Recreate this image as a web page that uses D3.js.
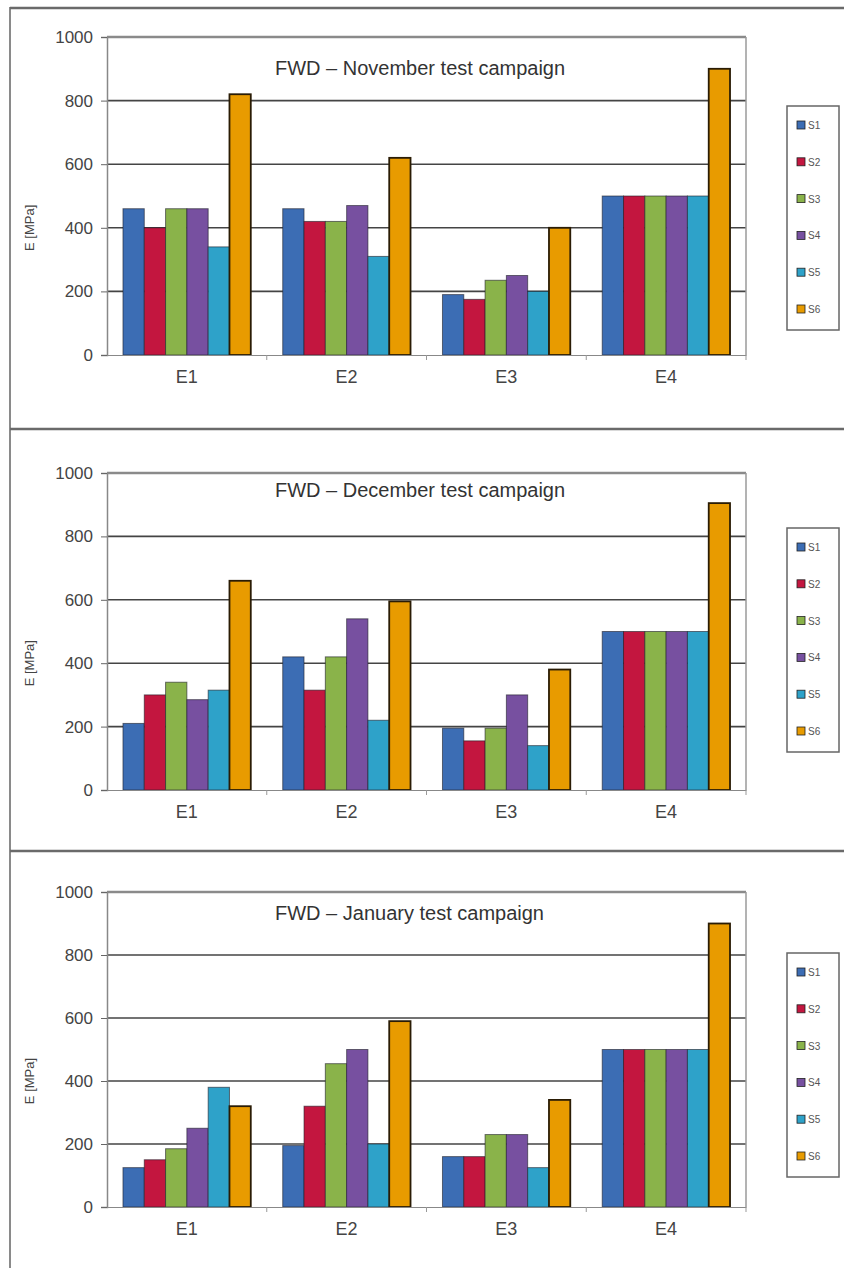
<!DOCTYPE html>
<html>
<head>
<meta charset="utf-8">
<script src="https://cdn.jsdelivr.net/npm/d3@7"></script>
<style>
  body { margin: 0; background: #fff; }
  svg { display: block; font-family: "Liberation Sans", Arial, sans-serif; }
</style>
</head>
<body>
<script>
// categories and series
const categorias = ['E1', 'E2', 'E3', 'E4'];
const series = ['S1', 'S2', 'S3', 'S4', 'S5', 'S6'];
const colores = ['#3c6db4', '#c3163f', '#8ab34a', '#7750a0', '#2ea2c9', '#e89b00'];
const ticksY = [0, 200, 400, 600, 800, 1000];

const titulos = ['FWD \u2013 November test campaign', 'FWD \u2013 December test campaign', 'FWD \u2013 January test campaign'];

// values [category][series]  (MPa)
const noviembre = [
    [460, 400, 460, 460, 340, 820],
    [460, 420, 420, 470, 310, 620],
    [190, 175, 235, 250, 200, 400],
    [500, 500, 500, 500, 500, 900]
];
const diciembre = [
    [210, 300, 340, 285, 315, 660],
    [420, 315, 420, 540, 220, 595],
    [195, 155, 195, 300, 140, 380],
    [500, 500, 500, 500, 500, 905]
];
const enero = [
    [125, 150, 185, 250, 380, 320],
    [195, 320, 455, 500, 200, 590],
    [160, 160, 230, 230, 125, 340],
    [500, 500, 500, 500, 500, 900]
];
const campanas = [noviembre, diciembre, enero];

// layout of each panel (plot top / bottom, title y, legend top)
const paneles = [
    { top: 37, bottom: 355, tituloY: 75, leyendaY: 106 },
    { top: 473, bottom: 790, tituloY: 497, leyendaY: 528 },
    { top: 892, bottom: 1207, tituloY: 920, leyendaY: 953 }
];

const w = 844, h = 1268;
const izq = 107, der = 746;

const svg = d3.select('body').append('svg')
    .attr('width', w)
    .attr('height', h);

// frame lines
svg.append('line').attr('x1', 10).attr('x2', 10).attr('y1', 7).attr('y2', h)
    .attr('stroke', '#8a8a8a').attr('stroke-width', 2);
[8, 429, 851].forEach((y) => {
    svg.append('line').attr('x1', 10).attr('x2', w).attr('y1', y).attr('y2', y)
        .attr('stroke', '#6a6a6a').attr('stroke-width', 2.5);
});

const xScale = d3.scaleBand()
    .domain(categorias)
    .range([izq, der])
    .paddingInner(0.2)
    .paddingOuter(0.1);

const xSerie = d3.scaleBand()
    .domain(series)
    .range([0, xScale.bandwidth()]);

campanas.forEach((datos, p) => {
    const pan = paneles[p];
    const g = svg.append('g');

    const yScale = d3.scaleLinear()
        .domain([0, 1000])
        .range([pan.bottom, pan.top]);

    // grid lines
    g.selectAll('.grid')
        .data(ticksY.slice(1))
        .enter()
        .append('line')
        .attr('x1', izq).attr('x2', der)
        .attr('y1', (d) => yScale(d)).attr('y2', (d) => yScale(d))
        .attr('stroke', (d) => d === 1000 ? '#8a8a8a' : '#444')
        .attr('stroke-width', (d) => d === 1000 ? 2.5 : 1.6);

    // right border of plot area
    g.append('line')
        .attr('x1', der).attr('x2', der)
        .attr('y1', pan.top).attr('y2', pan.bottom)
        .attr('stroke', '#9a9a9a').attr('stroke-width', 1.5);

    // bars
    const grupos = g.selectAll('.grupo')
        .data(datos)
        .enter()
        .append('g')
        .attr('transform', (d, i) => 'translate(' + xScale(categorias[i]) + ',0)');

    grupos.selectAll('rect')
        .data((d) => d.map((v, j) => ({ serie: series[j], valor: v, j: j })))
        .enter()
        .append('rect')
        .attr('x', (d) => xSerie(d.serie))
        .attr('y', (d) => yScale(d.valor))
        .attr('width', xSerie.bandwidth())
        .attr('height', (d) => yScale(0) - yScale(d.valor))
        .attr('fill', (d) => colores[d.j])
        .attr('stroke', (d) => d.j === 5 ? '#2a1c05' : 'rgba(30,30,40,0.6)')
        .attr('stroke-width', (d) => d.j === 5 ? 1.8 : 1);

    // Y axis
    const yAxis = d3.axisLeft(yScale).tickValues(ticksY).tickFormat(d3.format('d')).tickSize(6).tickPadding(8);
    const ejeY = g.append('g')
        .attr('transform', 'translate(' + izq + ',0)')
        .call(yAxis);
    ejeY.select('.domain').attr('stroke', '#888').attr('stroke-width', 1.5);
    ejeY.selectAll('.tick line').attr('stroke', '#666');
    ejeY.selectAll('text').attr('font-size', 17).attr('fill', '#444')
        .attr('font-family', '"Liberation Sans", Arial, sans-serif');

    // X axis
    const xAxis = d3.axisBottom(xScale).tickSize(0).tickPadding(15);
    const ejeX = g.append('g')
        .attr('transform', 'translate(0,' + pan.bottom + ')')
        .call(xAxis);
    ejeX.select('.domain').attr('stroke', '#888').attr('stroke-width', 1.2);
    ejeX.selectAll('text').attr('font-size', 18).attr('fill', '#444')
        .attr('font-family', '"Liberation Sans", Arial, sans-serif');

    // small ticks between categories
    const limites = categorias.slice(1).map((c) => xScale(c) - xScale.step() * xScale.paddingInner() / 2);
    g.selectAll('.sep')
        .data(limites.concat([der]))
        .enter()
        .append('line')
        .attr('x1', (d) => d).attr('x2', (d) => d)
        .attr('y1', pan.bottom).attr('y2', pan.bottom + 5)
        .attr('stroke', '#999');

    // title
    g.append('text')
        .attr('x', 275)
        .attr('y', pan.tituloY)
        .attr('font-size', 20)
        .attr('fill', '#333')
        .text(titulos[p]);

    // y label
    g.append('text')
        .attr('transform', 'translate(34,' + yScale(400) + ') rotate(-90)')
        .attr('text-anchor', 'middle')
        .attr('font-size', 13)
        .attr('fill', '#444')
        .text('E [MPa]');

    // legend
    const ley = g.append('g').attr('transform', 'translate(787,' + pan.leyendaY + ')');
    ley.append('rect')
        .attr('width', 52).attr('height', 224)
        .attr('fill', '#fff')
        .attr('stroke', '#666').attr('stroke-width', 1.5);

    const items = ley.selectAll('.item')
        .data(series)
        .enter()
        .append('g')
        .attr('transform', (d, i) => 'translate(10,' + (20 + i * 36.8) + ')');
    items.append('rect')
        .attr('x', 0).attr('y', -5)
        .attr('width', 8).attr('height', 8)
        .attr('fill', (d, i) => colores[i])
        .attr('stroke', '#222').attr('stroke-width', 0.8);
    items.append('text')
        .attr('x', 11).attr('y', 3)
        .attr('font-size', 10)
        .attr('fill', '#555')
        .text((d) => d);
});
</script>
</body>
</html>
